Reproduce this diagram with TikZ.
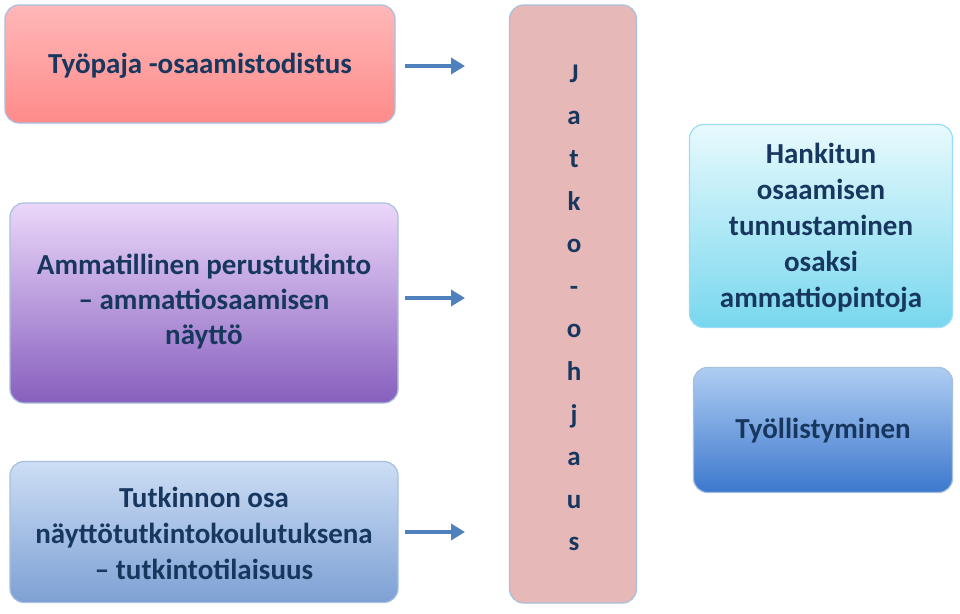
\documentclass[tikz,border=0pt]{standalone}
\usepackage{fontspec}
\setmainfont{Carlito}
\usetikzlibrary{arrows.meta}
\definecolor{txt}{HTML}{17375E}
\definecolor{arr}{HTML}{4F81BD}
\tikzset{
 box/.style={rounded corners=14pt, draw=#1, line width=1.2pt},
 lbl/.style={text=txt, align=center, font=\bfseries\fontsize{29}{36}\selectfont},
 arrow/.style={-{Triangle[length=14pt,width=16pt]}, draw=arr, line width=4.5pt},
}
\begin{document}
\begin{tikzpicture}[x=1pt,y=-1pt]
\useasboundingbox (0,0) rectangle (960,613);
\fill[white] (0,0) rectangle (960,613);
% left boxes
\node[box=arr!50, top color=red!28, bottom color=red!48!white!90!pink, minimum width=390pt, minimum height=118pt] (b1) at (200,64) {};
\node[lbl] (t1) at (200,66) {Työpaja -osaamistodistus};
\node[box=arr!50, top color={rgb,255:red,235;green,215;blue,250}, bottom color={rgb,255:red,135;green,95;blue,190}, minimum width=388pt, minimum height=200pt] (b2) at (204,303) {};
\node[lbl, font=\bfseries\fontsize{29}{35}\selectfont] (t2) at (204,302) {Ammatillinen perustutkinto\\– ammattiosaamisen\\näyttö};
\node[box=arr!50, top color={rgb,255:red,205;green,222;blue,245}, bottom color={rgb,255:red,125;green,160;blue,212}, minimum width=388pt, minimum height=141pt] (b3) at (204,532) {};
\node[lbl] (t3) at (204,533) {Tutkinnon osa\\näyttötutkintokoulutuksena\\– tutkintotilaisuus};
% middle
\node[box=arr!50, fill={rgb,255:red,230;green,185;blue,184}, minimum width=127pt, minimum height=598pt] (m) at (573,304) {};
\node[lbl, font=\bfseries\fontsize{27}{42.6}\selectfont] (mt) at (574,308) {J\\a\\t\\k\\o\\-\\o\\h\\j\\a\\u\\s};
% arrows
\draw[arrow] (405,66) coordinate (a1s) -- (465,66) coordinate (a1e);
\draw[arrow] (405,298) coordinate (a2s) -- (465,298) coordinate (a2e);
\draw[arrow] (405,532) coordinate (a3s) -- (465,532) coordinate (a3e);
% right
\node[box=cyan!40, top color={rgb,255:red,232;green,250;blue,253}, bottom color={rgb,255:red,120;green,215;blue,238}, minimum width=263pt, minimum height=203pt] (r1) at (821,226) {};
\node[lbl] (rt1) at (821,228) {Hankitun\\osaamisen\\tunnustaminen\\osaksi\\ammattiopintoja};
\node[box=arr!50, top color={rgb,255:red,175;green,205;blue,242}, bottom color={rgb,255:red,60;green,120;blue,205}, minimum width=259pt, minimum height=125pt] (r2) at (823,430) {};
\node[lbl] (rt2) at (823,431) {Työllistyminen};
\end{tikzpicture}
\end{document}
